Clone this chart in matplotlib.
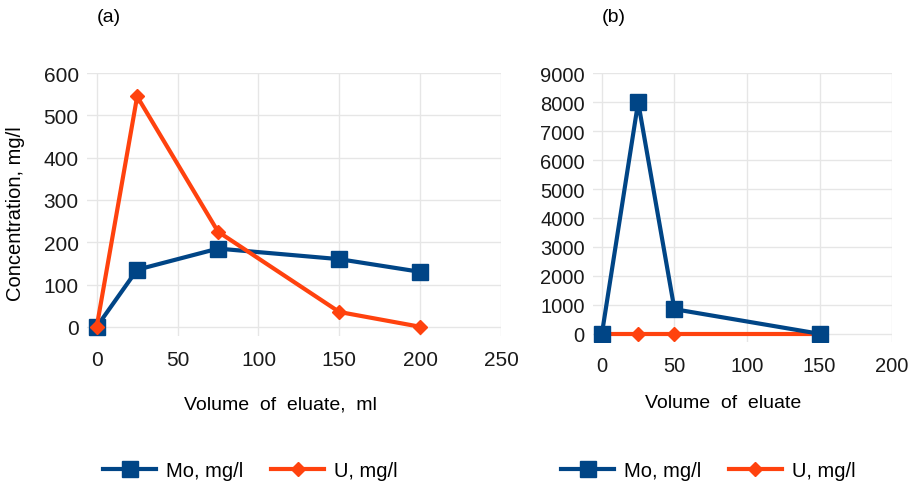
import matplotlib
matplotlib.use("Agg")
import matplotlib.pyplot as plt
from matplotlib.lines import Line2D

plt.rcParams['font.family'] = ['Liberation Sans', 'DejaVu Sans']

# panel (a)
vol_a = [0, 25, 75, 150, 200]
mo_a = [0, 135, 185, 160, 130]
u_a = [0, 545, 225, 35, 0]

# panel (b)
vol_b = [0, 25, 50, 150]
mo_b = [0, 8000, 850, 0]
u_b = [0, 0, 0, 0]

blue = '#004586'
orange = '#ff420e'
grid_c = '#e6e6e6'

fig = plt.figure(figsize=(9.14, 4.85), dpi=100)

ax1 = fig.add_axes([0.0952, 0.305, 0.453, 0.542])
ax2 = fig.add_axes([0.649, 0.293, 0.327, 0.554])

ax1.plot(vol_a, mo_a, color=blue, lw=3, marker='s', ms=11, zorder=3)
ax1.plot(vol_a, u_a, color=orange, lw=3, marker='D', ms=7, zorder=4)
ax1.set_xlim(-6, 250)
ax1.set_ylim(-22, 600)
ax1.set_xticks([0, 50, 100, 150, 200, 250])
ax1.set_yticks(range(0, 601, 100))

ax2.plot(vol_b, u_b, color=orange, lw=3, marker='D', ms=7, zorder=3)
ax2.plot(vol_b, mo_b, color=blue, lw=3, marker='s', ms=11, zorder=4)
ax2.set_xlim(-6, 200)
ax2.set_ylim(-280, 9000)
ax2.set_xticks([0, 50, 100, 150, 200])
ax2.set_yticks(range(0, 9001, 1000))

for ax in (ax1, ax2):
    for s in ax.spines.values():
        s.set_visible(False)
    ax.grid(True, color=grid_c, lw=1)
    ax.set_axisbelow(True)
    ax.tick_params(length=0, labelsize=15, colors='#1a1a1a')
    ax.tick_params(axis='x', pad=10)
    ax.tick_params(axis='y', pad=6)
for lab in ax2.get_xticklabels() + ax2.get_yticklabels():
    lab.set_fontsize(14.5)

fig.text(0.0165, 0.56, 'Concentration, mg/l', rotation=90, fontsize=14.5,
         ha='center', va='center')
fig.text(0.307, 0.165, 'Volume  of  eluate,  ml', fontsize=14, ha='center', va='center')
fig.text(0.791, 0.169, 'Volume  of  eluate', fontsize=14, ha='center', va='center')
fig.text(0.119, 0.963, '(a)', fontsize=14, ha='center', va='center')
fig.text(0.672, 0.963, '(b)', fontsize=14, ha='center', va='center')

handles = [Line2D([], [], color=blue, lw=3, marker='s', ms=11),
           Line2D([], [], color=orange, lw=3, marker='D', ms=7)]
labels = ['Mo, mg/l', 'U, mg/l']
for cx in (0.274, 0.775):
    fig.legend(handles, labels, loc='center', bbox_to_anchor=(cx, 0.027), ncol=2,
               frameon=False, fontsize=14.5, handlelength=2.6, columnspacing=1.4,
               handletextpad=0.5)

fig.savefig('out.png', dpi=100)
